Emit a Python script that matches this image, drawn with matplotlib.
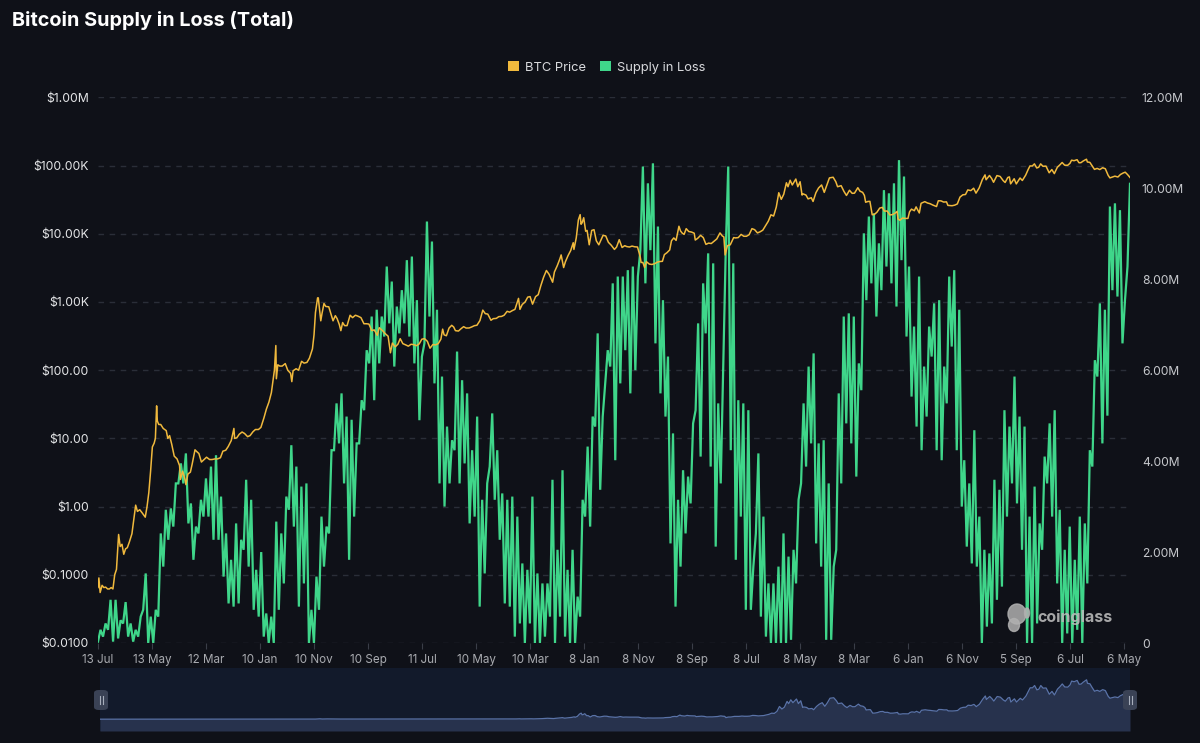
import numpy as np
import matplotlib
matplotlib.use("Agg")
import matplotlib.pyplot as plt
import matplotlib.dates as mdates
from matplotlib.patches import Patch, FancyBboxPatch, Ellipse

plt.rcParams['font.family'] = ['Inter', 'DejaVu Sans']

# ---------------- data ----------------
TITLE = "Bitcoin Supply in Loss (Total)"
SERIES_NAMES = ["BTC Price", "Supply in Loss"]

x_tick_dates = ["2010-07-13", "2011-05-13", "2012-03-12", "2013-01-10", "2013-11-10",
                "2014-09-10", "2015-07-11", "2016-05-10", "2017-03-10", "2018-01-08",
                "2018-11-08", "2019-09-08", "2020-07-08", "2021-05-08", "2022-03-08",
                "2023-01-06", "2023-11-06", "2024-09-05", "2025-07-06", "2026-05-06"]
x_tick_labels = ["13 Jul", "13 May", "12 Mar", "10 Jan", "10 Nov", "10 Sep", "11 Jul",
                 "10 May", "10 Mar", "8 Jan", "8 Nov", "8 Sep", "8 Jul", "8 May", "8 Mar",
                 "6 Jan", "6 Nov", "5 Sep", "6 Jul", "6 May"]

price_ticks = [0.01, 0.1, 1, 10, 100, 1e3, 1e4, 1e5, 1e6]
price_tick_labels = ["$0.0100", "$0.1000", "$1.00", "$10.00", "$100.00",
                     "$1.00K", "$10.00K", "$100.00K", "$1.00M"]
supply_ticks_m = [0, 2, 4, 6, 8, 10, 12]
supply_tick_labels = ["0", "2.00M", "4.00M", "6.00M", "8.00M", "10.00M", "12.00M"]

price_dates = [
    "2010-07-13", "2010-07-18", "2010-07-25", "2010-08-05", "2010-08-15", "2010-08-25", "2010-09-05", "2010-09-15", "2010-09-25", "2010-10-05", "2010-10-15", "2010-10-25", "2010-11-06", "2010-11-15", "2010-11-25", "2010-12-05", "2010-12-15", "2010-12-25",
    "2011-01-05", "2011-01-20", "2011-02-01", "2011-02-10", "2011-02-20", "2011-03-05", "2011-03-20", "2011-04-05", "2011-04-15", "2011-04-25", "2011-05-05", "2011-05-15", "2011-05-25", "2011-06-01", "2011-06-08", "2011-06-12", "2011-06-20", "2011-07-01", "2011-07-15", "2011-08-01", "2011-08-10", "2011-08-20", "2011-09-01", "2011-09-15", "2011-10-01", "2011-10-15", "2011-10-20", "2011-11-01", "2011-11-15", "2011-11-20", "2011-12-01", "2011-12-15", "2011-12-25",
    "2012-01-10", "2012-01-20", "2012-02-01", "2012-02-15", "2012-03-01", "2012-03-15", "2012-04-01", "2012-04-15", "2012-05-01", "2012-05-15", "2012-06-01", "2012-06-15", "2012-07-01", "2012-07-15", "2012-08-01", "2012-08-16", "2012-08-20", "2012-09-01", "2012-09-15", "2012-10-01", "2012-10-15", "2012-11-01", "2012-11-15", "2012-12-01", "2012-12-15",
    "2013-01-01", "2013-01-15", "2013-02-01", "2013-02-15", "2013-03-01", "2013-03-15", "2013-04-01", "2013-04-09", "2013-04-12", "2013-04-20", "2013-05-01", "2013-05-15", "2013-06-01", "2013-06-15", "2013-07-01", "2013-07-08", "2013-07-15", "2013-08-01", "2013-08-15", "2013-09-01", "2013-09-15", "2013-10-01", "2013-10-15", "2013-11-01", "2013-11-10", "2013-11-18", "2013-11-30", "2013-12-04", "2013-12-18", "2013-12-25",
    "2014-01-05", "2014-01-15", "2014-02-01", "2014-02-15", "2014-02-25", "2014-03-10", "2014-03-20", "2014-04-01", "2014-04-10", "2014-04-20", "2014-05-01", "2014-05-15", "2014-06-01", "2014-06-15", "2014-07-01", "2014-07-15", "2014-08-01", "2014-08-18", "2014-09-01", "2014-09-15", "2014-10-01", "2014-10-15", "2014-11-01", "2014-11-12", "2014-12-01", "2014-12-15",
    "2015-01-01", "2015-01-14", "2015-01-25", "2015-02-10", "2015-02-25", "2015-03-10", "2015-03-25", "2015-04-10", "2015-04-25", "2015-05-10", "2015-05-25", "2015-06-10", "2015-06-25", "2015-07-10", "2015-07-25", "2015-08-10", "2015-08-25", "2015-09-10", "2015-09-25", "2015-10-10", "2015-10-25", "2015-11-04", "2015-11-12", "2015-11-25", "2015-12-10", "2015-12-25",
    "2016-01-05", "2016-01-15", "2016-02-01", "2016-02-15", "2016-03-01", "2016-03-15", "2016-04-01", "2016-04-15", "2016-05-01", "2016-05-15", "2016-06-01", "2016-06-17", "2016-07-01", "2016-07-15", "2016-08-02", "2016-08-15", "2016-09-01", "2016-09-15", "2016-10-01", "2016-10-15", "2016-11-01", "2016-11-15", "2016-12-01", "2016-12-15",
    "2017-01-04", "2017-01-12", "2017-01-25", "2017-02-10", "2017-02-25", "2017-03-10", "2017-03-24", "2017-04-10", "2017-04-25", "2017-05-10", "2017-05-25", "2017-06-10", "2017-06-25", "2017-07-15", "2017-07-25", "2017-08-10", "2017-08-25", "2017-09-01", "2017-09-15", "2017-09-25", "2017-10-10", "2017-10-25", "2017-11-08", "2017-11-12", "2017-11-25", "2017-12-07", "2017-12-17", "2017-12-22", "2017-12-28",
    "2018-01-06", "2018-01-17", "2018-01-25", "2018-02-06", "2018-02-20", "2018-03-05", "2018-03-18", "2018-04-01", "2018-04-15", "2018-04-25", "2018-05-10", "2018-05-25", "2018-06-10", "2018-06-28", "2018-07-10", "2018-07-25", "2018-08-10", "2018-08-25", "2018-09-05", "2018-09-20", "2018-10-05", "2018-10-20", "2018-11-05", "2018-11-20", "2018-11-25", "2018-12-05", "2018-12-15", "2018-12-25",
    "2019-01-10", "2019-01-25", "2019-02-10", "2019-02-25", "2019-03-10", "2019-03-25", "2019-04-05", "2019-04-20", "2019-05-05", "2019-05-15", "2019-05-28", "2019-06-10", "2019-06-26", "2019-07-05", "2019-07-15", "2019-07-25", "2019-08-06", "2019-08-20", "2019-09-05", "2019-09-20", "2019-09-26", "2019-10-10", "2019-10-26", "2019-11-10", "2019-11-25", "2019-12-10", "2019-12-25",
    "2020-01-10", "2020-01-25", "2020-02-12", "2020-02-25", "2020-03-05", "2020-03-12", "2020-03-25", "2020-04-10", "2020-04-29", "2020-05-10", "2020-05-25", "2020-06-10", "2020-06-25", "2020-07-10", "2020-07-25", "2020-08-10", "2020-08-25", "2020-09-10", "2020-09-25", "2020-10-10", "2020-10-25", "2020-11-10", "2020-11-25", "2020-12-10", "2020-12-25",
    "2021-01-08", "2021-01-22", "2021-02-05", "2021-02-20", "2021-03-01", "2021-03-13", "2021-03-25", "2021-04-14", "2021-04-25", "2021-05-08", "2021-05-19", "2021-05-25", "2021-06-10", "2021-06-22", "2021-07-10", "2021-07-20", "2021-08-05", "2021-08-20", "2021-09-06", "2021-09-21", "2021-10-05", "2021-10-20", "2021-11-10", "2021-11-25", "2021-12-05", "2021-12-25",
    "2022-01-10", "2022-01-24", "2022-02-10", "2022-02-25", "2022-03-10", "2022-03-29", "2022-04-10", "2022-04-25", "2022-05-05", "2022-05-12", "2022-05-25", "2022-06-05", "2022-06-18", "2022-07-01", "2022-07-15", "2022-07-30", "2022-08-14", "2022-08-25", "2022-09-10", "2022-09-25", "2022-10-10", "2022-10-25", "2022-11-05", "2022-11-10", "2022-11-21", "2022-12-05", "2022-12-25",
    "2023-01-05", "2023-01-14", "2023-01-25", "2023-02-10", "2023-02-20", "2023-03-10", "2023-03-20", "2023-04-10", "2023-04-25", "2023-05-10", "2023-05-25", "2023-06-15", "2023-06-25", "2023-07-10", "2023-07-25", "2023-08-10", "2023-08-18", "2023-09-10", "2023-09-25", "2023-10-10", "2023-10-25", "2023-11-10", "2023-11-25", "2023-12-08", "2023-12-25",
    "2024-01-10", "2024-01-23", "2024-02-10", "2024-02-28", "2024-03-14", "2024-03-20", "2024-04-08", "2024-04-20", "2024-05-01", "2024-05-20", "2024-06-07", "2024-06-24", "2024-07-05", "2024-07-20", "2024-07-29", "2024-08-05", "2024-08-25", "2024-09-06", "2024-09-27", "2024-10-10", "2024-10-29", "2024-11-12", "2024-11-22", "2024-12-05", "2024-12-17", "2024-12-30",
    "2025-01-10", "2025-01-21", "2025-02-03", "2025-02-20", "2025-03-10", "2025-03-25", "2025-04-08", "2025-04-25", "2025-05-10", "2025-05-22", "2025-06-05", "2025-06-22", "2025-07-05", "2025-07-14", "2025-07-28", "2025-08-14", "2025-08-25", "2025-09-05", "2025-09-18", "2025-10-06", "2025-10-11", "2025-10-25", "2025-11-05", "2025-11-20", "2025-12-05", "2025-12-20",
    "2026-01-05", "2026-01-20", "2026-02-05", "2026-02-15", "2026-03-01", "2026-03-15", "2026-04-01", "2026-04-15", "2026-05-01", "2026-05-12", "2026-05-25", "2026-06-08",
]
price_usd = [
    0.065, 0.09, 0.055, 0.07, 0.065, 0.066, 0.062, 0.062, 0.065, 0.062, 0.10, 0.12, 0.39, 0.26, 0.28, 0.20, 0.24, 0.25,
    0.30, 0.40, 0.70, 1.05, 0.85, 0.90, 0.80, 0.70, 1.0, 1.6, 3.3, 7.5, 8.5, 10, 30, 18, 16, 16, 14, 13, 10, 11, 8.2, 5.5, 5.0, 4.0, 2.5, 3.3, 2.5, 2.1, 3.0, 3.2, 4.2,
    6.8, 6.4, 6.0, 4.5, 4.9, 5.3, 4.9, 4.9, 5.0, 5.0, 5.2, 6.5, 6.7, 7.6, 9.3, 14, 10, 10.2, 11.5, 12.4, 11.8, 10.6, 11, 12.5, 13.5,
    13.5, 14.5, 20, 27, 34, 47, 100, 230, 75, 120, 115, 115, 125, 100, 90, 68, 98, 105, 100, 135, 127, 130, 150, 205, 330, 700, 1150, 1150, 530, 680,
    950, 860, 850, 650, 530, 630, 570, 470, 380, 500, 450, 450, 640, 590, 640, 620, 590, 480, 480, 475, 380, 390, 325, 420, 380, 345,
    315, 180, 250, 220, 240, 290, 245, 235, 225, 240, 237, 229, 243, 285, 290, 265, 210, 238, 235, 245, 285, 400, 330, 320, 415, 455,
    430, 380, 375, 405, 435, 415, 416, 430, 450, 456, 535, 760, 675, 665, 540, 570, 575, 610, 615, 640, 730, 710, 750, 780,
    1130, 780, 920, 1000, 1180, 1200, 930, 1200, 1280, 1750, 2300, 2900, 2550, 1950, 2750, 3400, 4300, 4900, 3200, 3900, 4800, 5700, 7400, 5900, 8700, 16000, 19100, 13800, 14500,
    17200, 10900, 11200, 6900, 11200, 11500, 7900, 6900, 8300, 9500, 9300, 7500, 6800, 5900, 6400, 8200, 6300, 6700, 6500, 6400, 6600, 6450, 6400, 4600, 3800, 3800, 3200, 3900,
    3600, 3550, 3650, 3850, 3920, 3950, 4950, 5300, 5800, 7900, 8700, 8000, 12900, 11000, 10200, 9800, 11900, 10800, 10600, 10200, 8100, 8600, 9500, 8800, 7000, 7300, 7200,
    7800, 8400, 10300, 9300, 9000, 4900, 6700, 6900, 8800, 8700, 8800, 9800, 9200, 9200, 9700, 11900, 11500, 10300, 10700, 11300, 13100, 15300, 19000, 18200, 24700,
    40000, 32000, 38000, 56000, 49000, 61000, 52000, 63500, 49000, 58000, 37000, 38500, 37000, 32500, 33800, 29800, 40000, 47000, 52000, 40500, 51500, 66000, 67500, 58000, 49000, 50800,
    41800, 36500, 43500, 39200, 39400, 47400, 42200, 40500, 36500, 29000, 29800, 29900, 19000, 19300, 20800, 23800, 24400, 21500, 21600, 18900, 19100, 20100, 21300, 16500, 15800, 17000, 16800,
    16800, 21000, 23000, 21800, 24800, 20200, 28000, 29600, 28300, 27600, 26400, 25100, 30500, 30400, 29200, 29400, 26100, 25800, 26300, 27400, 34500, 37300, 37700, 44000, 43000,
    46600, 39500, 47100, 62500, 73100, 62000, 71600, 64900, 57000, 71400, 69300, 60300, 56600, 66900, 68300, 54000, 64200, 53900, 65800, 60500, 72700, 88000, 98900, 98700, 106000, 92300,
    94500, 106000, 97700, 98300, 78500, 87500, 76300, 94600, 103000, 111000, 101500, 100900, 108000, 120000, 118000, 122000, 110000, 110500, 117000, 124000, 113000, 111500, 101000, 88000, 91000, 87500,
    93000, 90000, 72000, 66000, 68000, 70000, 68000, 74000, 78000, 80000, 74000, 67000,
]

# Supply in loss (millions of BTC): lows and highs of the swings, read left to right
supply_first_date = "2010-07-13"
supply_last_date = "2026-06-08"
supply_high_m = [
    0.29, 0.43, 0.95, 0.95, 0.5, 0.9, 0.43, 0.29, 0.58, 1.53, 0.58, 0.73, 2.41, 2.93, 2.96, 3.51, 3.95, 4.17, 3.07, 2.56, 3.15, 3.62, 3.88, 4.13, 3.22, 2.41, 1.83, 2.63, 2.27, 3.59, 3.15, 1.61, 2.0, 0.65, 0.58, 2.67, 2.41, 3.22, 4.35, 3.88, 3.44,
    3.51, 0.73, 1.46, 2.78, 2.56, 4.24, 5.27, 5.49, 4.98, 4.91, 4.39, 5.34, 6.44, 7.18, 7.33, 7.18, 8.28, 7.95, 7.4, 7.76, 8.42, 8.5, 7.54, 6.3, 9.27, 8.83, 7.33, 5.86, 4.76, 4.46, 6.41, 5.78, 5.49, 4.24, 4.98, 3.15, 3.51, 5.05, 4.24, 3.29, 3.15,
    3.22, 2.78, 1.75, 1.61, 3.22, 1.53, 1.31, 1.31, 3.59, 2.05, 3.8, 1.61, 2.05, 1.02, 3.15, 4.32, 4.98, 6.81, 4.98, 6.44, 7.91, 8.06, 8.06, 8.2, 8.28, 8.06, 10.48, 10.11, 10.55, 9.16, 7.54, 6.3, 4.61, 3.15, 3.8, 3.66, 4.83, 7.03, 7.91, 8.57, 8.35,
    5.27, 6.08, 10.48, 8.35, 5.34, 5.27, 5.12, 1.68, 4.17, 2.78, 1.31, 1.31, 1.68, 2.41, 1.9, 2.05, 3.15, 5.27, 6.08, 6.37, 4.39, 4.46, 3.51, 1.68, 5.49, 7.18, 7.25, 7.18, 6.15, 9.01, 9.38, 9.45, 8.79, 9.96, 9.89, 10.11, 10.62, 10.26, 8.28, 6.96,
    8.06, 6.08, 6.96, 7.47, 7.54, 6.08, 8.06, 8.2, 7.33, 4.02, 3.51, 4.68, 2.78, 2.05, 1.97, 3.59, 3.37, 5.12, 4.76, 5.86, 4.98, 4.76, 2.78, 3.44, 2.63, 4.1, 4.83, 5.12, 2.93, 2.05, 2.56, 1.83, 2.78, 2.63, 4.24, 6.22, 7.47, 7.33, 9.6, 9.67, 9.52, 7.54, 10.1,
]
supply_low_m = [
    0.03, 0.14, 0.29, 0.03, 0.1, 0.43, 0.14, 0.03, 0.14, 0.73, 0.0, 0.0, 0.58, 1.68, 2.27, 2.56, 3.51, 3.51, 2.63, 1.83, 2.41, 2.78, 2.78, 2.27, 2.27, 1.46, 0.87, 0.8, 0.87, 2.05, 1.68, 0.73, 0.58, 0.14, 0.0, 0.0, 0.73, 1.31, 2.93, 2.56, 0.8,
    1.31, 0.0, 0.0, 0.73, 1.68, 2.41, 4.24, 4.39, 3.51, 1.83, 2.78, 4.39, 5.12, 6.15, 5.34, 6.15, 6.74, 7.03, 6.08, 6.81, 7.03, 6.74, 6.15, 4.9, 6.59, 7.18, 5.71, 3.51, 3.0, 3.51, 4.24, 3.51, 3.95, 2.63, 2.78, 0.8, 1.53, 3.88, 3.15, 2.27, 0.87,
    0.8, 0.14, 0.43, 0.0, 0.43, 0.0, 0.0, 0.14, 0.58, 0.0, 0.58, 0.14, 0.0, 0.0, 0.58, 2.78, 2.56, 4.76, 3.37, 5.71, 6.08, 4.02, 5.71, 6.44, 5.49, 6.0, 8.64, 7.91, 8.64, 6.59, 5.49, 4.98, 2.19, 0.8, 1.68, 2.41, 3.07, 5.12, 4.1, 6.81, 3.88,
    2.12, 3.51, 8.64, 4.24, 1.83, 2.78, 0.73, 0.73, 2.41, 0.58, 0.14, 0.0, 0.0, 0.0, 0.0, 0.07, 1.31, 3.51, 3.88, 4.39, 2.19, 1.68, 0.07, 0.07, 2.05, 3.51, 4.83, 4.39, 3.66, 5.56, 7.54, 7.91, 7.18, 7.76, 8.28, 7.91, 7.4, 8.42, 6.74, 5.42,
    4.76, 4.24, 4.98, 6.3, 4.24, 4.02, 5.27, 6.52, 4.24, 3.0, 2.12, 1.75, 1.68, 0.0, 0.36, 0.43, 0.95, 1.24, 2.78, 3.51, 3.07, 2.05, 0.0, 0.0, 0.43, 2.05, 3.51, 2.78, 1.31, 0.0, 0.21, 0.0, 0.29, 0.0, 1.31, 3.88, 5.86, 4.39, 5.0, 7.76, 7.62, 6.59, 8.28,
]
assert len(price_dates) == len(price_usd)
assert len(supply_high_m) == len(supply_low_m)

# ---------------- style ----------------
BG = "#0f1118"
GRID = "#2a2e38"
YELLOW = "#f0b93d"
GREEN = "#3fd68a"
W, H = 1200, 743


def rect(l, t, r, b):
    return [l / W, 1 - b / H, (r - l) / W, (b - t) / H]


fig = plt.figure(figsize=(W / 100, H / 100), dpi=100, facecolor=BG)

d2n = lambda s: mdates.date2num(np.array(s, dtype="datetime64[D]"))
x_first = d2n(supply_first_date)
x_last = d2n(supply_last_date)

# main axes (left price scale, grid)
ax = fig.add_axes(rect(98, 97.4, 1130, 643))
ax.set_facecolor(BG)
ax.set_yscale("log")
ax.set_ylim(price_ticks[0], price_ticks[-1])
ax.set_xlim(x_first, x_last)
ax.set_yticks(price_ticks)
ax.set_yticklabels(price_tick_labels)
ax.yaxis.set_minor_locator(matplotlib.ticker.NullLocator())
ax.set_xticks(d2n(x_tick_dates))
ax.set_xticklabels(x_tick_labels)
ax.yaxis.grid(True, color=GRID, linestyle=(0, (4, 4)), linewidth=1)
ax.set_axisbelow(True)
ax.tick_params(axis="y", length=0, pad=6.5, labelsize=8.8, labelcolor="#e4e5e7")
ax.tick_params(axis="x", length=4, color="#3a3e48", pad=4, labelsize=8.4, labelcolor="#a9abb0")
for s in ax.spines.values():
    s.set_visible(False)

# supply axis (right)
ax_s = ax.twinx()
ax_s.set_ylim(supply_ticks_m[0], supply_ticks_m[-1])
ax_s.set_yticks(supply_ticks_m)
ax_s.set_yticklabels(supply_tick_labels)
ax_s.tick_params(axis="y", length=0, pad=8.5, labelsize=8.7, labelcolor="#c6c8cc")
supply_m = np.column_stack([supply_low_m, supply_high_m]).ravel()
supply_x = np.linspace(x_first, x_last, len(supply_m))
ax_s.plot(supply_x, supply_m, color=GREEN, lw=1.6, solid_joinstyle="miter")
for s in ax_s.spines.values():
    s.set_visible(False)

# price line on top
ax_p = ax.twinx()
ax_p.set_yscale("log")
ax_p.set_ylim(price_ticks[0], price_ticks[-1])
ax_p.tick_params(axis="y", right=False, labelright=False, which="both")
price_x = d2n(price_dates)
ax_p.plot(price_x, price_usd, color=YELLOW, lw=1.1)
for s in ax_p.spines.values():
    s.set_visible(False)

# title
fig.text(12 / W, 1 - 20 / H, TITLE, color="white", fontsize=14.3, fontweight="bold",
         va="center", ha="left")

# legend
handles = [Patch(facecolor=YELLOW, edgecolor="none", label=SERIES_NAMES[0]),
           Patch(facecolor=GREEN, edgecolor="none", label=SERIES_NAMES[1])]
fig.legend(handles=handles, loc="center", bbox_to_anchor=(607 / W, 1 - 67.5 / H), ncol=2,
           frameon=False, handlelength=0.85, handleheight=0.85, handletextpad=0.45,
           columnspacing=1.1, fontsize=9.3, labelcolor="#d8d9dc")

# watermark
fig.text(1037 / W, 1 - 617 / H, "coinglass", color="#b8b8b8", fontsize=11.5,
         fontweight="bold", va="center", ha="left", alpha=0.9)
fig.add_artist(Ellipse((1017 / W, 1 - 614 / H), 18 / W, 20 / H, color="#b0b0b0", alpha=0.85,
                       transform=fig.transFigure))
fig.add_artist(Ellipse((1014 / W, 1 - 625 / H), 11 / W, 13 / H, color="#b0b0b0", alpha=0.85,
                       transform=fig.transFigure))
fig.add_artist(Ellipse((1027 / W, 1 - 613 / H), 5 / W, 10 / H, color="#b0b0b0", alpha=0.85,
                       transform=fig.transFigure))

# navigator
nav = fig.add_axes(rect(100, 668, 1130, 731))
nav.set_facecolor("#121a2b")
pmin, pmax = min(price_usd), max(price_usd)
rng = pmax - pmin
nav_lo, nav_hi = pmin - 0.3 * rng, pmax + 0.3 * rng
nav.fill_between(price_x, price_usd, nav_lo, color="#27324d", lw=0)
nav.plot(price_x, price_usd, color="#5a73a8", lw=0.9)
nav.set_xlim(x_first, x_last)
nav.set_ylim(nav_lo, nav_hi)
nav.set_xticks([])
nav.set_yticks([])
for s in nav.spines.values():
    s.set_visible(False)

for cx in (101, 1130):
    fig.add_artist(FancyBboxPatch(((cx - 7) / W, 1 - 710 / H), 14 / W, 20 / H,
                                  boxstyle="round,pad=0,rounding_size=0.004",
                                  facecolor="#3a4255", edgecolor="none",
                                  transform=fig.transFigure))
    for dx in (-1.5, 1.5):
        fig.add_artist(plt.Line2D([(cx + dx) / W, (cx + dx) / W], [1 - 704 / H, 1 - 696 / H],
                                  color="#a7aebb", lw=0.8, transform=fig.transFigure))

fig.savefig("out.png", dpi=100, facecolor=BG)
